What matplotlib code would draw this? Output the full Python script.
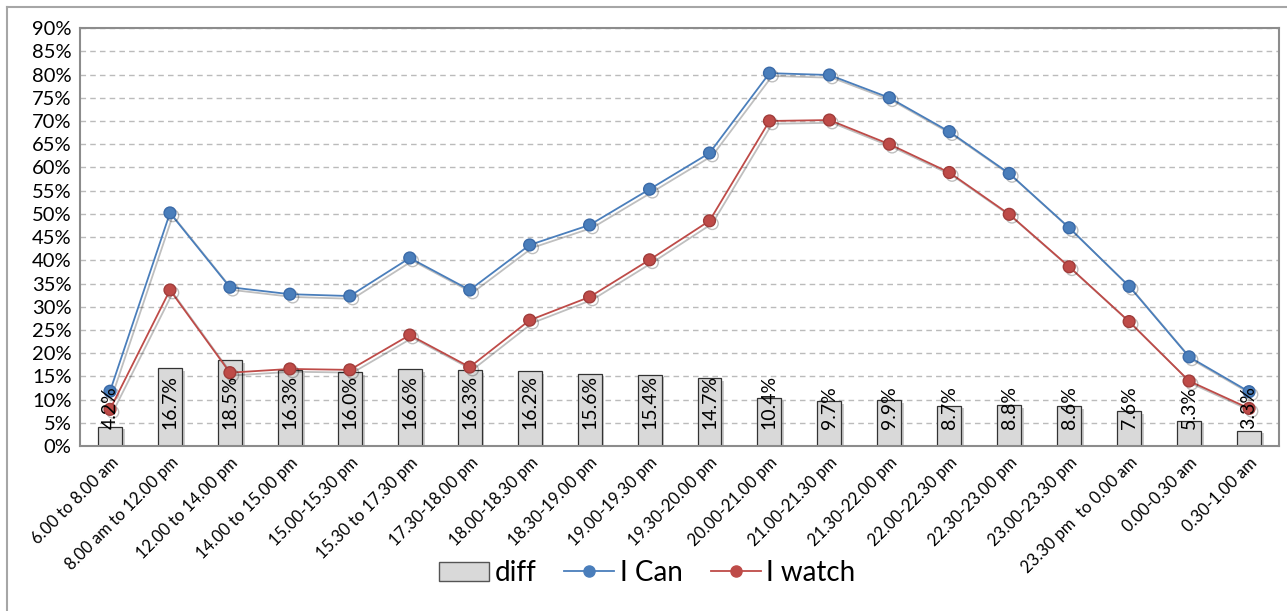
import matplotlib.pyplot as plt
import matplotlib.patheffects as pe
import numpy as np
from matplotlib.lines import Line2D
from matplotlib.ticker import MultipleLocator, FuncFormatter

plt.rcParams['font.family'] = ['Lato', 'DejaVu Sans']

slots = ["6.00 to 8.00 am", "8.00 am to 12.00 pm", "12.00 to 14.00 pm", "14.00 to 15.00 pm",
         "15.00-15.30 pm", "15.30 to 17.30 pm", "17.30-18.00 pm", "18.00-18.30 pm",
         "18.30-19.00 pm", "19.00-19.30 pm", "19.30-20.00 pm", "20.00-21.00 pm",
         "21.00-21.30 pm", "21.30-22.00 pm", "22.00-22.30 pm", "22.30-23.00 pm",
         "23.00-23.30 pm", "23.30 pm  to 0.00 am", "0.00-0.30 am", "0.30-1.00 am"]
i_can = [11.8, 50.2, 34.2, 32.7, 32.3, 40.5, 33.6, 43.3, 47.6, 55.3,
         63.1, 80.3, 79.9, 75.0, 67.7, 58.7, 47.0, 34.4, 19.2, 11.7]
i_watch = [7.9, 33.6, 15.8, 16.6, 16.4, 23.9, 17.0, 27.1, 32.1, 40.1,
           48.5, 70.0, 70.2, 65.0, 58.9, 49.9, 38.6, 26.8, 14.0, 8.1]
diff = [4.2, 16.7, 18.5, 16.3, 16.0, 16.6, 16.3, 16.2, 15.6, 15.4,
        14.7, 10.4, 9.7, 9.9, 8.7, 8.8, 8.6, 7.6, 5.3, 3.3]

fig = plt.figure(figsize=(12.87, 6.11), dpi=100)
ax = fig.add_axes([0.0622, 0.27, 0.9316, 0.684])
x = np.arange(len(slots))

shadow = [pe.SimplePatchShadow(offset=(2, -2), shadow_rgbFace='#999999', alpha=0.5), pe.Normal()]
bars = ax.bar(x, diff, width=0.4, color='#d9d9d9', edgecolor='#333333', linewidth=0.9, zorder=2)
for b in bars:
    b.set_path_effects(shadow)
for xi, d in zip(x, diff):
    ax.text(xi, 3.7, f"{d:.1f}%", rotation=90, ha='center', va='bottom',
            fontsize=14, color='black', zorder=5)

line_fx = [pe.SimpleLineShadow(offset=(2, -2), alpha=0.25), pe.Normal()]
ax.plot(x, i_can, color='#4a7ebb', lw=1.3, marker='o', markersize=8.5,
        markeredgecolor='#3a6aa8', zorder=3, path_effects=line_fx)
ax.plot(x, i_watch, color='#be4b48', lw=1.3, marker='o', markersize=8.5,
        markeredgecolor='#a03c3a', zorder=4, path_effects=line_fx)

ax.set_xlim(-0.5, len(slots) - 0.5)
ax.set_ylim(0, 90)
ax.yaxis.set_major_locator(MultipleLocator(5))
ax.yaxis.set_major_formatter(FuncFormatter(lambda v, p: f"{v:.0f}%"))
ax.grid(axis='y', color='#bbbbbb', linestyle=(0, (4, 3)), linewidth=1)
ax.set_axisbelow(True)
for s in ax.spines.values():
    s.set_color('#8c8c8c')
    s.set_linewidth(1.5)
ax.tick_params(axis='y', labelsize=14.5, length=0, pad=6)
ax.tick_params(axis='x', length=0, pad=6)
ax.set_xticks(x)
ax.set_xticklabels(slots, rotation=45, ha='right', rotation_mode='anchor', fontsize=12)

handles = [plt.Rectangle((0, 0), 1, 1, facecolor='#d9d9d9', edgecolor='#555555'),
           Line2D([], [], color='#4a7ebb', marker='o', markersize=8, lw=1.3),
           Line2D([], [], color='#be4b48', marker='o', markersize=8, lw=1.3)]
fig.legend(handles, ['diff', 'I Can', 'I watch'], loc='center', bbox_to_anchor=(0.503, 0.062),
           ncol=3, frameon=False, fontsize=20, handlelength=1.8, columnspacing=1.0,
           handletextpad=0.2)

fig.add_artist(Line2D([7 / 1287, 7 / 1287], [0, 1 - 7 / 611], color='#a6a6a6', lw=1.5))
fig.add_artist(Line2D([7 / 1287, 1], [1 - 7 / 611, 1 - 7 / 611], color='#a6a6a6', lw=1.5))

fig.savefig('out.png', dpi=100)
